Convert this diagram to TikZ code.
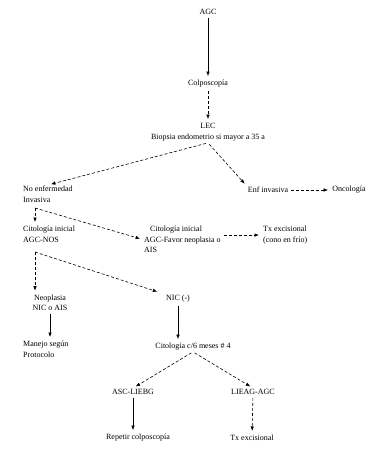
\documentclass[tikz,border=0pt]{standalone}
\usepackage{fontspec}
\setmainfont{Liberation Serif}
\usetikzlibrary{arrows.meta}
\usetikzlibrary{positioning}

\tikzset{
  txt/.style={font=\fontsize{8}{10.5}\selectfont, inner sep=1pt, align=center},
  ltxt/.style={txt, align=left, anchor=north west},
  arr/.style={-{Latex[length=4.5pt,width=3.5pt]}, line width=0.6pt, shorten >=3pt, shorten <=2pt},
  darr/.style={arr, densely dashed},
}

\begin{document}
\begin{tikzpicture}[x=1pt, y=-1pt]
    \useasboundingbox (0,0) rectangle (367,449);

    \node[txt] (agc) at (208,12) {AGC};
    \node[txt] (colpo) at (208,84) {Colposcopía};
    \node[txt] (lec) at (208,126) {LEC};
    \node[txt] (biop) at (208,138) {Biopsia endometrio si mayor a 35 a};

    \node[ltxt] (noenf) at (22,185) {No enfermedad\\Invasiva};
    \node[txt] (enf) at (268,190) {Enf invasiva};
    \node[txt] (onco) at (349,190) {Oncología};
    \coordinate (inv) at (35,208);

    \node[ltxt] (nos) at (22,225) {Citología inicial\\AGC-NOS};
    \node[ltxt] (fav) at (143,225) {\hspace{6pt}Citología inicial\\AGC-Favor neoplasia o\\AIS};
    \node[ltxt] (tx) at (262,225) {Tx excisional\\(cono en frío)};
    \coordinate (nosb) at (35,252);

    \node[txt] (neo) at (50,303) {Neoplasia\\NIC o AIS};
    \node[txt] (nicneg) at (178,299) {NIC (-)};
    \node[ltxt] (manejo) at (22,340) {Manejo según\\Protocolo};
    \node[txt] (cito) at (193,347) {Citología c/6 meses \# 4};

    \node[txt] (asc) at (133,392) {ASC-LIEBG};
    \node[txt] (lieag) at (253,392) {LIEAG-AGC};
    \node[txt] (rep) at (138,438) {Repetir colposcopía};
    \node[txt] (txe) at (252,438) {Tx excisional};

    % tronco principal
    \draw[arr] (agc) -- (colpo);
    \draw[darr] (colpo) -- (lec);
    \draw[darr] (biop.south) -- (noenf.north);
    \draw[darr] (biop.south) -- (enf.north west);
    \draw[darr] (enf) -- (onco);

    % sin enfermedad invasiva
    \draw[darr, shorten <=0pt] (inv) -- (inv |- nos.north);
    \draw[darr, shorten <=0pt] (inv) -- (fav.west);
    \draw[darr] (tx.west -| fav.east) -- (tx.west);
    \draw[darr, shorten <=0pt] (nosb) -- (nosb |- neo.north);
    \draw[darr, shorten <=0pt, shorten >=8pt] (nosb) -- (nicneg.north west);
    \draw[arr] (neo.south) -- (neo.south |- manejo.north);
    \draw[arr] (nicneg) -- (nicneg |- cito.north);

    % seguimiento
    \draw[darr] (cito.south) -- (asc.north);
    \draw[darr] (cito.south) -- (lieag.north);
    \draw[arr] (asc.south) -- (asc.south |- rep.north);
    \draw[darr] (lieag) -- (txe);
\end{tikzpicture}
\end{document}
